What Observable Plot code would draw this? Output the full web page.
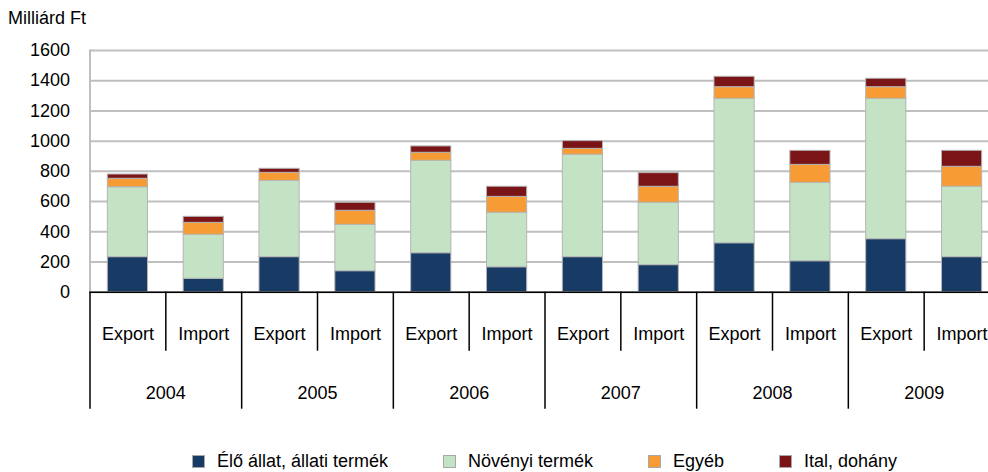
<!DOCTYPE html>
<html>
<head>
<meta charset="utf-8">
<script src="https://cdn.jsdelivr.net/npm/d3@7"></script>
<script src="https://cdn.jsdelivr.net/npm/@observablehq/plot@0.6"></script>
<style>
  html, body { margin: 0; padding: 0; background: #fff; overflow: hidden; }
  body { font-family: "Liberation Sans", Arial, sans-serif; color: #000; width: 988px; height: 472px; }
  #title { height: 30px; box-sizing: border-box; padding: 8px 0 0 8px; font-size: 18px; line-height: 20px; }
  #legend { display: flex; justify-content: center; margin: 9px 0 0 89.5px; width: 910px; font-size: 18px; line-height: 20px; gap: 55px; }
  #legend .item { display: flex; align-items: center; }
  #legend .sw { width: 13px; height: 13px; box-sizing: border-box; border: 1px solid #a8a8a8; margin-right: 12px; }
</style>
</head>
<body>
<div id="title">Milliárd Ft</div>
<div id="chart"></div>
<div id="legend"></div>
<script>
// ---- data ----
const years = ["2004", "2005", "2006", "2007", "2008", "2009"];
const flows = ["Export", "Import"];
const categories = ["Élő állat, állati termék", "Növényi termék", "Egyéb", "Ital, dohány"];
const colors = ["#173b64", "#c4e2c4", "#f79c34", "#7a1416"];
// order: 2004 Export, 2004 Import, 2005 Export, ...
const eloAllat = [232, 89, 232, 139, 258, 165, 232, 179, 324, 205, 351, 232];
const novenyi  = [463, 291, 505, 307, 612, 361, 678, 413, 956, 519, 929, 466];
const egyeb    = [56, 79, 53, 93, 53, 105, 39, 106, 77, 119, 77, 132];
const ital     = [28, 40, 27, 53, 42, 67, 51, 90, 69, 93, 56, 106];
const yTicks = [0, 200, 400, 600, 800, 1000, 1200, 1400, 1600];

// ---- table ----
const series = [eloAllat, novenyi, egyeb, ital];
const keys = [];
years.forEach(y => flows.forEach(f => keys.push(y + " " + f)));
const data = [];
keys.forEach((k, i) => {
  categories.forEach((c, j) => data.push({key: k, year: k.split(" ")[0], flow: k.split(" ")[1], cat: c, value: series[j][i]}));
});
const exportKeys = keys.filter(k => k.endsWith("Export"));
const importKeys = keys.filter(k => k.endsWith("Import"));

const W = 988, H = 412, mL = 89.5, mR = -11.5, mT = 20, mB = 150.3;
const step = (W - mL - mR) / keys.length;

const chart = Plot.plot({
  width: W, height: H,
  marginLeft: mL, marginRight: mR, marginTop: mT, marginBottom: mB,
  style: {fontFamily: "'Liberation Sans', Arial, sans-serif", fontSize: "18px", color: "#000", background: "#fff", overflow: "hidden"},
  x: {domain: keys, paddingInner: 0.47, paddingOuter: 0.235, round: false, axis: null},
  y: {domain: [0, 1600], axis: null},
  color: {domain: categories, range: colors},
  marks: [
    Plot.gridY(yTicks, {stroke: "#bfbfbf", strokeOpacity: 1, strokeWidth: 2}),
    Plot.frame({anchor: "left", stroke: "#bfbfbf", strokeWidth: 2}),
    Plot.barY(data, Plot.stackY({x: "key", y: "value", fill: "cat", order: categories, stroke: "#b5b5b5", strokeWidth: 1})),
    Plot.ruleY([0], {stroke: "#000", strokeWidth: 1.5}),
    Plot.axisY({ticks: yTicks, tickSize: 0, tickPadding: 20, tickFormat: d => String(d), label: null, fontSize: 18}),
    Plot.axisX({ticks: importKeys, tickSize: 59, dx: -step / 2, tickFormat: () => "", label: null, stroke: "#000", strokeWidth: 1.5}),
    Plot.axisX({ticks: exportKeys, tickSize: 117, dx: -step / 2, tickFormat: () => "", label: null, stroke: "#000", strokeWidth: 1.5}),
    Plot.axisX({ticks: keys, tickSize: 0, tickPadding: 35, tickFormat: k => k.split(" ")[1], label: null, fontSize: 18}),
    Plot.axisX({ticks: exportKeys, tickSize: 0, tickPadding: 94, dx: step / 2, tickFormat: k => k.split(" ")[0], label: null, fontSize: 18})
  ]
});
document.getElementById("chart").appendChild(chart);

const legend = document.getElementById("legend");
categories.forEach((c, i) => {
  const item = document.createElement("div");
  item.className = "item";
  const sw = document.createElement("span");
  sw.className = "sw";
  sw.style.background = colors[i];
  const t = document.createElement("span");
  t.textContent = c;
  item.appendChild(sw);
  item.appendChild(t);
  legend.appendChild(item);
});
</script>
</body>
</html>
